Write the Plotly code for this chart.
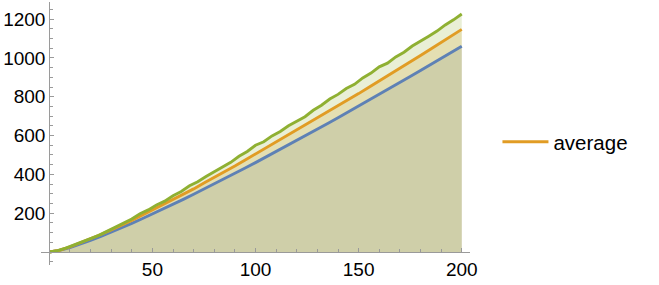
import plotly.graph_objects as go

# ---- data ----
x_lower = [0, 5, 10, 15, 20, 25, 30, 35, 40, 45, 50, 55, 60, 65, 70, 75, 80, 85, 90, 95, 100,
           105, 110, 115, 120, 125, 130, 135, 140, 145, 150, 155, 160, 165, 170, 175, 180,
           185, 190, 195, 200]
lower = [0, 8.0, 23.0, 40.6, 59.9, 80.5, 102.0, 124.4, 147.6, 171.3, 195.6, 220.4, 245.7,
         271.3, 297.4, 323.8, 350.6, 377.6, 405.0, 432.6, 460.5, 488.7, 517.0, 545.7, 574.5,
         603.6, 632.8, 662.2, 691.8, 721.6, 751.6, 781.7, 812.0, 842.5, 873.1, 903.8, 934.7,
         965.8, 996.9, 1028.2, 1059.7]

x_avg = x_lower
average = [0, 9, 26, 46, 68, 90, 114, 137, 163, 189, 216, 243, 270, 298, 325, 356, 384, 414,
           443, 474, 505, 534, 565, 596, 626, 659, 689, 721, 752, 785, 816, 849, 881, 915, 946,
           980, 1012, 1046, 1079, 1113, 1147]

x_upper = [0, 4, 8, 12, 16, 20, 24, 28, 32, 36, 40, 44, 48, 52, 56, 60, 64, 68, 72, 76, 80,
           84, 88, 92, 96, 100, 104, 108, 112, 116, 120, 124, 128, 132, 136, 140, 144, 148,
           152, 156, 160, 164, 168, 172, 176, 180, 184, 188, 192, 196, 200]
upper = [0, 7, 20, 35, 50, 69, 86, 107, 126, 149, 170, 197, 217, 242, 262, 290, 312, 341, 362,
         389, 413, 440, 462, 493, 518, 550, 568, 598, 621, 650, 673, 697, 730, 756, 788, 812,
         842, 864, 897, 922, 954, 973, 1005, 1029, 1061, 1085, 1112, 1138, 1170, 1196, 1226]

x_ticks = [50, 100, 150, 200]
y_ticks = [200, 400, 600, 800, 1000, 1200]

# ---- styles ----
BLUE = "#5E81B5"
ORANGE = "#E19C24"
GREEN = "#8FB032"
FILL = {"lower": "rgba(94,129,181,0.2)", "average": "rgba(225,156,36,0.2)",
        "upper": "rgba(143,176,50,0.2)"}
AXIS = "#9a9a9a"
FONT = "Liberation Sans, Arial, sans-serif"

XR = [-4, 204]
YR = [-67, 1288]

fig = go.Figure()

series = [("lower", x_lower, lower, BLUE), ("average", x_avg, average, ORANGE),
          ("upper", x_upper, upper, GREEN)]

# fills first
for name, xs, ys, col in series:
    fig.add_trace(go.Scatter(x=xs, y=ys, mode="lines", line=dict(width=0, color=col),
                             fill="tozeroy", fillcolor=FILL[name], showlegend=False,
                             hoverinfo="skip"))
# lines on top
for name, xs, ys, col in series:
    fig.add_trace(go.Scatter(x=xs, y=ys, mode="lines", name=name,
                             line=dict(width=2.9, color=col),
                             showlegend=(name == "average")))

fig.update_layout(
    width=659, height=285,
    margin=dict(l=41.3, r=659 - 470.4, t=2, b=20, autoexpand=False),
    paper_bgcolor="white", plot_bgcolor="white",
    font=dict(family=FONT, size=19, color="black"),
    showlegend=True,
    legend=dict(x=1.064, y=0.468, xanchor="left", yanchor="middle", itemwidth=46,
                font=dict(size=20.5, family=FONT, color="black"),
                bgcolor="rgba(0,0,0,0)", borderwidth=0),
    xaxis=dict(range=XR, showgrid=False, zeroline=False, showline=True, linecolor=AXIS,
               linewidth=1, anchor="free", position=(0 - YR[0]) / (YR[1] - YR[0]),
               tickvals=x_ticks, ticktext=[str(v) for v in x_ticks], ticks="inside",
               ticklen=4, tickcolor=AXIS, tickwidth=1,
               minor=dict(dtick=10, tick0=0, ticks="inside", ticklen=2.5, tickcolor=AXIS),
               tickfont=dict(size=19, family=FONT, color="black"), automargin=False),
    yaxis=dict(range=YR, showgrid=False, zeroline=False, showline=True, linecolor=AXIS,
               linewidth=1, anchor="free", position=(0 - XR[0]) / (XR[1] - XR[0]),
               tickvals=y_ticks, ticktext=[str(v) for v in y_ticks], ticks="inside",
               ticklen=4, tickcolor=AXIS, tickwidth=1,
               minor=dict(dtick=50, tick0=0, ticks="inside", ticklen=2.5, tickcolor=AXIS),
               tickfont=dict(size=19, family=FONT, color="black"), automargin=False),
)

fig.write_html("out.html")
